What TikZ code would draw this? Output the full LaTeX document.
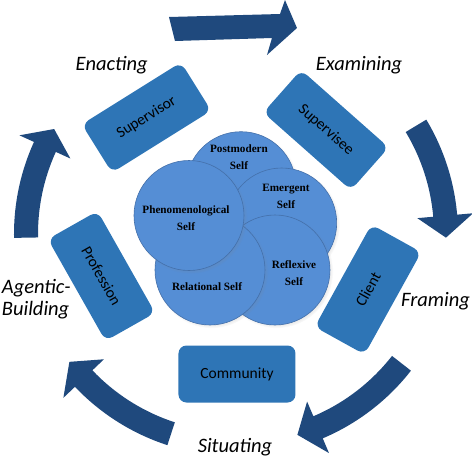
\documentclass[tikz,border=0pt]{standalone}
\usepackage{fontspec}
\setmainfont{Carlito}
\newfontfamily\selffont{Liberation Serif}
\usepackage{tikz}
\usetikzlibrary{shapes.geometric, shadows}
\usepackage{xcolor}
\definecolor{boxblue}{HTML}{2E75B6}
\definecolor{selfblue}{HTML}{558ED5}
\definecolor{selfedge}{HTML}{4470AA}
\definecolor{arrowblue}{HTML}{1F497D}

\begin{document}
\begin{tikzpicture}[x=1pt, y=1pt,
    role/.style={rectangle, rounded corners=8pt, fill=boxblue, minimum width=117pt, minimum height=57pt, inner sep=0pt, font=\fontsize{15.5}{18}\selectfont},
    self/.style={circle, fill=selfblue, draw=selfedge, line width=0.6pt, minimum size=110pt, inner sep=0pt,
        circular drop shadow={shadow xshift=1.5pt, shadow yshift=-1.5pt, shadow scale=1.03, opacity=0.35}},
    selftext/.style={align=center, inner sep=0pt, font=\selffont\bfseries\fontsize{11.2}{17}\selectfont},
    phase/.style={inner sep=0pt, font=\itshape\fontsize{20.5}{21.7}\selectfont},
    cyclearrow/.style={fill=arrowblue}]
    \useasboundingbox (-236,-222) rectangle (236,234);

    % Cycle arrows
    \fill[cyclearrow] (-67,217) -- (44,220) -- (49,234) -- (61,206) -- (31,179) -- (36,196) -- (-61,193) -- cycle;
    \foreach \tail/\back/\tip in {31/5/-1, -38/-67/-73, -108/-136.5/-142.5, 181/155.5/150}
        \fill[cyclearrow] (\tail:222) arc[start angle=\tail, end angle=\back, radius=222]
            -- (\back:238) -- (\tip:210) -- (\back:182) -- (\back:198)
            arc[start angle=\back, end angle=\tail, radius=198] -- cycle;

    % Role boxes
    \node[role, rotate=32] (supervisor) at (-89.5,116.5) {Supervisor};
    \node[role, rotate=-41.5] (supervisee) at (90,104) {Supervisee};
    \node[role, rotate=61] (client) at (132,-55.5) {Client};
    \node[role] (community) at (1,-140) {Community};
    \node[role, rotate=-60.5] (profession) at (-134.5,-42) {Profession};

    % Phase labels
    \node[phase] (enacting) at (-124.3,169) {Enacting};
    \node[phase] (examining) at (123,169) {Examining};
    \node[phase] (framing) at (199.5,-67) {Framing};
    \node[phase] (situating) at (-1,-213) {Situating};
    \node[phase, align=left, anchor=west] (agentic) at (-234.3,-65) {Agentic-\\Building};

    % Self circles
    \node[self] (postmodern) at (5,47.3) {};
    \node[self] (emergent) at (45.7,11) {};
    \node[self] (reflexive) at (39,-36) {};
    \node[self] (relational) at (-26,-36) {};
    \node[self] (phenomenological) at (-47,18.5) {};

    % Self texts
    \node[selftext] (postmodern-txt) at (3,77) {Postmodern\\Self};
    \node[selftext] (emergent-txt) at (50,38) {Emergent\\Self};
    \node[selftext] (reflexive-txt) at (58,-39) {Reflexive\\Self};
    \node[selftext] (relational-txt) at (-29,-53) {Relational Self};
    \node[selftext] (phenomenological-txt) at (-50,16) {Phenomenological\\Self};
\end{tikzpicture}
\end{document}
